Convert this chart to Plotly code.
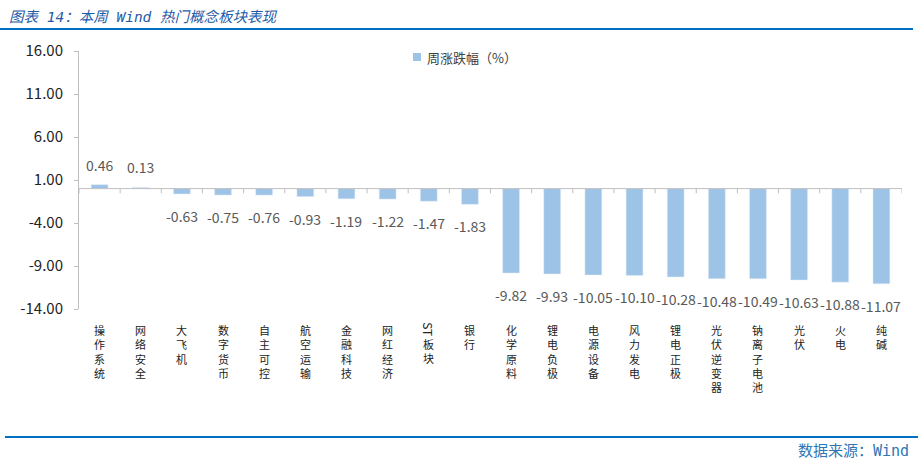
import plotly.graph_objects as go

categories = ["操作系统", "网络安全", "大飞机", "数字货币", "自主可控", "航空运输", "金融科技", "网红经济",
              "ST板块", "银行", "化学原料", "锂电负极", "电源设备", "风力发电", "锂电正极", "光伏逆变器",
              "钠离子电池", "光伏", "火电", "纯碱"]
values = [0.46, 0.13, -0.63, -0.75, -0.76, -0.93, -1.19, -1.22, -1.47, -1.83, -9.82, -9.93, -10.05,
          -10.10, -10.28, -10.48, -10.49, -10.63, -10.88, -11.07]
y_ticks = [16, 11, 6, 1, -4, -9, -14]
series_name = "周涨跌幅（%）"
title_text = "图表 14：本周 Wind 热门概念板块表现"
source_text = "数据来源：Wind"

idx = list(range(len(categories)))
bar_color = "#9DC3E6"
grey_text = "#595959"
font_cn = "Noto Sans CJK SC"
font_mono = "DejaVu Sans Mono, Noto Sans CJK SC"

W, H = 918, 461
L, R, T, B = 79, 918 - 902, 51, 461 - 309


def px_x(x):
    return (x - L) / (W - L - R)


def px_y(y):
    return (H - B - y) / (H - T - B)


fig = go.Figure()
fig.add_trace(go.Bar(x=idx, y=values, name=series_name, marker_color=bar_color, width=0.41,
                     showlegend=False))

annotations = []
# data labels
for i, v in zip(idx, values):
    annotations.append(dict(x=i, y=v, xref="x", yref="y", text=f"{v:.2f}", showarrow=False,
                            yanchor="bottom" if v >= 0 else "top",
                            yshift=8 if v >= 0 else -10,
                            font=dict(family=font_cn, size=14, color=grey_text)))
# category labels (vertical text, one character per line)
lab_font = dict(family=font_cn, size=11, color="#222222")
for i, c in zip(idx, categories):
    chars = list(c)
    top = 320
    if c.startswith("ST"):
        annotations.append(dict(x=i, y=px_y(320), xref="x", yref="paper", text="ST", textangle=90,
                                showarrow=False, yanchor="top", xanchor="center",
                                font=dict(family=font_cn, size=12, color="#222222")))
        chars = chars[2:]
        top = 334
    annotations.append(dict(x=i, y=px_y(top), xref="x", yref="paper", text="<br>".join(chars),
                            showarrow=False, yanchor="top", xanchor="center", font=lab_font))
# legend (manual)
annotations.append(dict(x=px_x(425), y=px_y(57), xref="paper", yref="paper", xanchor="left",
                        yanchor="middle", showarrow=False, text=series_name,
                        font=dict(family=font_cn, size=13, color="#404040")))
# title and source
annotations.append(dict(x=px_x(7), y=px_y(17), xref="paper", yref="paper", xanchor="left",
                        yanchor="middle", showarrow=False,
                        text=f"<i>{title_text}</i>",
                        font=dict(family=font_mono, size=14.5, color="#1F5CA8")))
annotations.append(dict(x=px_x(911), y=px_y(451), xref="paper", yref="paper", xanchor="right",
                        yanchor="middle", showarrow=False, text=source_text,
                        font=dict(family=font_mono, size=15, color="#2E75B6")))

shapes = [
    dict(type="line", xref="paper", yref="paper", x0=px_x(0), x1=px_x(913), y0=px_y(29), y1=px_y(29),
         line=dict(color="#0070C0", width=2)),
    dict(type="line", xref="paper", yref="paper", x0=px_x(5), x1=px_x(918), y0=px_y(437), y1=px_y(437),
         line=dict(color="#0070C0", width=2)),
    dict(type="line", xref="paper", yref="y", x0=0, x1=1, y0=0, y1=0,
         line=dict(color="#BFBFBF", width=1)),
    dict(type="rect", xref="paper", yref="paper", x0=px_x(413), x1=px_x(421), y0=px_y(53), y1=px_y(61),
         fillcolor=bar_color, line=dict(width=0)),
]
# tick marks on the zero line between categories
for k in range(len(categories) + 1):
    shapes.append(dict(type="line", xref="x", yref="y", x0=k - 0.5, x1=k - 0.5, y0=0, y1=-0.55,
                       line=dict(color="#BFBFBF", width=1)))

fig.update_layout(
    width=W, height=H,
    margin=dict(l=L, r=R, t=T, b=B, pad=0),
    plot_bgcolor="white", paper_bgcolor="white",
    showlegend=False,
    xaxis=dict(range=[-0.5, len(categories) - 0.5], showticklabels=False, showgrid=False,
               zeroline=False, showline=False, ticks=""),
    yaxis=dict(range=[-14, 16], tickvals=y_ticks, ticktext=[f"{t:.2f}" for t in y_ticks],
               showgrid=False, zeroline=False, showline=True, linecolor="#BFBFBF", linewidth=1,
               ticks="outside", ticklen=4, tickcolor="#BFBFBF", automargin=False,
               ticklabelstandoff=8,
               tickfont=dict(family=font_cn, size=15, color="#222222")),
    annotations=annotations,
    shapes=shapes,
)

fig.write_html("out.html", config={"displayModeBar": False},
               post_script="document.body.style.margin='0';document.body.style.overflow='hidden';")
